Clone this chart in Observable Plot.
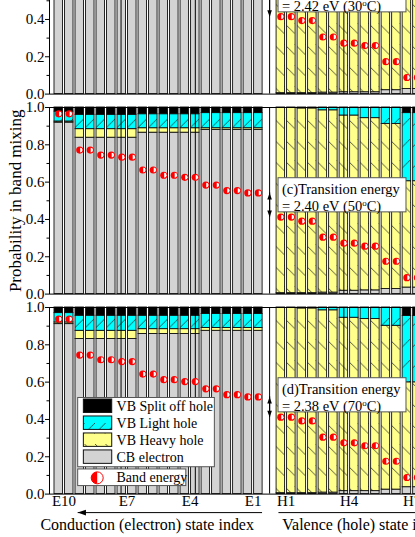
<!DOCTYPE html>
<html><head><meta charset="utf-8">
<script src="https://cdn.jsdelivr.net/npm/d3@7"></script>
<script src="https://cdn.jsdelivr.net/npm/@observablehq/plot@0.6"></script>
<style>
html,body{margin:0;padding:0;background:#fff;overflow:hidden}
#wrap{position:relative;width:415px;height:537px;overflow:hidden;background:#fff}
#wrap svg{position:absolute;left:0}
</style></head><body>
<svg width="0" height="0" style="position:absolute;left:0;top:0">
<defs>
<pattern id="hatchHeavy" patternUnits="userSpaceOnUse" x="53" y="0" width="10.506" height="21">
<rect width="10.506" height="21" fill="#FFFF8C"/>
<path d="M0,0L10.506,10.506" stroke="#222" stroke-width="0.75" fill="none"/>
</pattern>
<pattern id="hatchLight" patternUnits="userSpaceOnUse" x="53" y="0" width="10.506" height="21">
<rect width="10.506" height="21" fill="#00FFFF"/>
<path d="M0,10.506L10.506,0" stroke="#222" stroke-width="0.75" fill="none"/>
</pattern>
</defs></svg>
<div id="wrap"></div>
<script>
// ---------- data ----------
const conductionStates = ["E10","E9","E8","E7","E6","E5","E4","E3","E2","E1"];
const valenceStates = ["H1","H2","H3","H4","H5","H6","H7"];
const panelLetters = ["(b)","(c)","(d)"];
const transitionEnergies = ["2.42","2.40","2.38"];
const temperaturesC = ["30","50","70"];
const componentNames = ["VB Split off hole","VB Light hole","VB Heavy hole","CB electron"];
const xTickLabels = ["E10","E7","E4","E1","H1","H4","H7"];
const yTicks = [0,0.2,0.4,0.6,0.8,1.0];
const yMinorTicks = [0.1,0.3,0.5,0.7,0.9];
const bottomAxisTicks = [6.43,13.5,20.57,27.64,34.71];

// conduction (electron) states: fraction of each band, panels b, c, d
const cbE = [
  [0.919,0.838,0.838,0.838,0.865,0.865,0.865,0.880,0.880,0.880],
  [0.919,0.838,0.838,0.838,0.865,0.865,0.865,0.880,0.880,0.880],
  [0.911,0.831,0.831,0.831,0.858,0.858,0.858,0.875,0.875,0.875]];
const hhE = [
  [0.006,0.046,0.046,0.046,0.024,0.024,0.024,0.009,0.009,0.009],
  [0.006,0.046,0.046,0.046,0.024,0.024,0.024,0.009,0.009,0.009],
  [0.009,0.044,0.044,0.044,0.026,0.026,0.026,0.015,0.015,0.015]];
const lhE = [
  [0.053,0.077,0.077,0.077,0.075,0.075,0.075,0.081,0.081,0.081],
  [0.053,0.077,0.077,0.077,0.075,0.075,0.075,0.081,0.081,0.081],
  [0.050,0.081,0.081,0.081,0.072,0.072,0.072,0.075,0.075,0.075]];
const soE = [
  [0.022,0.039,0.039,0.039,0.036,0.036,0.036,0.030,0.030,0.030],
  [0.022,0.039,0.039,0.039,0.036,0.036,0.036,0.030,0.030,0.030],
  [0.030,0.044,0.044,0.044,0.044,0.044,0.044,0.035,0.035,0.035]];
const energyE = [
  [0.990,0.800,0.770,0.760,0.690,0.660,0.650,0.610,0.580,0.565],
  [0.966,0.772,0.745,0.734,0.665,0.637,0.626,0.584,0.555,0.542],
  [0.938,0.745,0.720,0.710,0.643,0.613,0.603,0.564,0.533,0.521]];

// valence (hole) states
const cbH = [
  [0.005,0.005,0.008,0.010,0.010,0.021,0.027],
  [0.005,0.005,0.008,0.018,0.020,0.027,0.035],
  [0.005,0.005,0.008,0.016,0.016,0.024,0.037]];
const hhH = [
  [0.995,0.990,0.977,0.950,0.940,0.900,0.600],
  [0.995,0.990,0.977,0.939,0.923,0.885,0.570],
  [0.995,0.990,0.977,0.929,0.922,0.878,0.562]];
const lhH = [
  [0,0.005,0.015,0.040,0.050,0.079,0.343],
  [0,0.005,0.015,0.043,0.057,0.088,0.365],
  [0,0.005,0.015,0.055,0.062,0.098,0.356]];
const soH = [
  [0,0,0,0,0,0,0.030],
  [0,0,0,0,0,0,0.030],
  [0,0,0,0,0,0,0.045]];
const energyH = [
  [0.415,0.394,0.306,0.273,0.260,0.174,0.089],
  [0.413,0.391,0.305,0.273,0.257,0.176,0.088],
  [0.412,0.392,0.305,0.275,0.259,0.176,0.089]];

// ---------- layout ----------
const LAYOUT = {
  panelTops: [-93.5, 107.3, 307.0], frameH: 186.6, width: 427, marginLeft: 49,
  gap: 1.14, xMin: -0.38, xMax: 35.6, font: "'Liberation Serif','Times New Roman',serif"
};
const RIGHT0 = 20 + LAYOUT.gap;
const GAPC = 20 + LAYOUT.gap / 2;
const fills = {cb: "#D3D3D3", hh: "url(#hatchHeavy)", lh: "url(#hatchLight)", so: "#000"};

const halfRight = {draw(ctx, size){const r=Math.sqrt(size/Math.PI);ctx.moveTo(0,-r);ctx.arc(0,0,r,-Math.PI/2,Math.PI/2);ctx.closePath();}};
const halfLeft = {draw(ctx, size){const r=Math.sqrt(size/Math.PI);ctx.moveTo(0,r);ctx.arc(0,0,r,Math.PI/2,3*Math.PI/2);ctx.closePath();}};
const arrowSym = (dir, len, wid) => ({draw(ctx, size){
  const k = Math.sqrt(size/Math.PI)/4, L = len*k, H = wid*k/2;
  ctx.moveTo(0,0);
  if (dir==="up"){ctx.lineTo(-H,L);ctx.lineTo(H,L);}
  else if (dir==="down"){ctx.lineTo(-H,-L);ctx.lineTo(H,-L);}
  else {ctx.lineTo(L,-H);ctx.lineTo(L,H);}
  ctx.closePath();
}});

function buildRows(pi){
  const rows = [], dots = [];
  const comps = [["cb",cbE,cbH],["hh",hhE,hhH],["lh",lhE,lhH],["so",soE,soH]];
  conductionStates.forEach((s,i)=>{
    for (let k=0;k<2;k++){
      const u = 2*i+k; let acc = 0;
      for (const [c,a] of comps){const v=a[pi][i]; rows.push({comp:c,x1:u,x2:u+1,y1:acc,y2:acc+v}); acc+=v;}
      dots.push({x:u+0.5, y:energyE[pi][i]});
    }
  });
  valenceStates.forEach((s,j)=>{
    for (let k=0;k<2;k++){
      const u = RIGHT0+2*j+k; let acc = 0;
      for (const [c,,a] of comps){const v=a[pi][j]; rows.push({comp:c,x1:u,x2:u+1,y1:acc,y2:acc+v}); acc+=v;}
      dots.push({x:u+0.5, y:energyH[pi][j]});
    }
  });
  return {rows: rows.filter(r=>r.y2-r.y1>1e-6), dots};
}

function tickPos(lbl){
  const i = conductionStates.indexOf(lbl);
  if (i>=0) return 2*i+1;
  return RIGHT0 + 2*valenceStates.indexOf(lbl) + 1;
}

function superscriptDegrees(svg){
  const w = document.createTreeWalker(svg, NodeFilter.SHOW_TEXT); const nodes=[];
  while (w.nextNode()) if (w.currentNode.nodeValue.includes("°")) nodes.push(w.currentNode);
  for (const n of nodes){
    const [a,b] = n.nodeValue.split("°");
    const sup = document.createElementNS("http://www.w3.org/2000/svg","tspan");
    sup.setAttribute("baseline-shift","super"); sup.setAttribute("font-size","0.62em"); sup.textContent="o";
    n.nodeValue = a; n.after(sup, document.createTextNode(b));
  }
}

function makePanel(pi){
  const last = pi===2;
  const {rows, dots} = buildRows(pi);
  const marks = [];
  for (const c of ["cb","hh","lh","so"]){
    marks.push(Plot.rect(rows.filter(r=>r.comp===c), {x1:"x1",x2:"x2",y1:"y1",y2:"y2",fill:fills[c],stroke:"#111",strokeWidth:0.9,insetLeft:1,insetRight:1}));
  }
  marks.push(Plot.tickX(bottomAxisTicks, {x:d=>d, y1:0, y2:0.022, stroke:"#000"}));
  marks.push(Plot.frame({stroke:"#000", strokeWidth:1}));
  marks.push(Plot.axisY(yTicks, {tickSize:4, tickPadding:1, tickFormat:d=>d.toFixed(1), fontSize:15, label:null}));
  marks.push(Plot.axisY(yMinorTicks, {tickSize:2.5, tickFormat:()=>"", label:null}));
  // annotation box
  marks.push(Plot.rect([0], {x1:RIGHT0+0.28, x2:RIGHT0+12.46, y1:0.438, y2:0.621, fill:"white", stroke:"#555", strokeWidth:1}));
  marks.push(Plot.text([`${panelLetters[pi]}Transition energy\n= ${transitionEnergies[pi]} eV (${temperaturesC[pi]}°C)`],
    {x:RIGHT0+0.6, y:0.5225, textAnchor:"start", lineAnchor:"middle", lineHeight:1.19, fontSize:14.5, fill:"#000"}));
  // transition arrow (E1 -> H1)
  const tr = [{x:GAPC, top:energyE[pi][9], bot:energyH[pi][0]}];
  marks.push(Plot.ruleX(tr, {x:"x", y1:"top", y2:"bot", stroke:"#000", strokeWidth:1.2}));
  marks.push(Plot.dot(tr, {x:"x", y:"top", symbol:arrowSym("up",6.5,4.6), r:4, fill:"#000", stroke:"none"}));
  marks.push(Plot.dot(tr, {x:"x", y:"bot", symbol:arrowSym("down",6.5,4.6), r:4, fill:"#000", stroke:"none"}));
  // band energy dots
  marks.push(Plot.dot(dots, {x:"x", y:"y", r:3.6, fill:"#FF0000", stroke:"none"}));
  marks.push(Plot.dot(dots, {x:"x", y:"y", r:2.4, dx:0.4, symbol:halfRight, fill:"#fff", stroke:"none"}));

  if (pi===1){
    marks.push(Plot.text(["Probability in band mixing"], {x:LAYOUT.xMin, y:0.5, rotate:-90, dx:-34, fontSize:17, fill:"#000"}));
  }
  if (last){
    // legend
    marks.push(Plot.rect([0], {x1:2.35, x2:15.36, y1:0.144, y2:0.515, fill:"white", stroke:"#555"}));
    const leg = componentNames.map((name,k)=>({name, comp:["so","lh","hh","cb"][k], yc:0.471-k*0.091}));
    for (const e of leg){
      marks.push(Plot.rect([e], {x1:2.89, x2:5.59, y1:e.yc-0.036, y2:e.yc+0.036, fill:fills[e.comp], stroke:"#111", strokeWidth:1}));
    }
    marks.push(Plot.text(leg, {x:6.0, y:"yc", text:"name", textAnchor:"start", fontSize:14, fill:"#000"}));
    marks.push(Plot.rect([0], {x1:2.35, x2:12.64, y1:0.043, y2:0.132, fill:"white", stroke:"#555"}));
    marks.push(Plot.dot([0], {x:4.16, y:0.087, r:6, fill:"white", stroke:"#FF0000", strokeWidth:1}));
    marks.push(Plot.dot([0], {x:4.16, y:0.087, r:6, symbol:halfLeft, fill:"#FF0000", stroke:"none"}));
    marks.push(Plot.text(["Band energy"], {x:6.0, y:0.087, textAnchor:"start", fontSize:14, fill:"#000"}));
    // x axis labels
    const tv = xTickLabels.map(tickPos);
    const lab = new Map(tv.map((v,i)=>[v, xTickLabels[i]]));
    marks.push(Plot.axisX(tv, {tickSize:0, tickPadding:1, tickFormat:d=>lab.get(d), fontSize:15, label:null}));
    // direction arrows below the axis
    marks.push(Plot.ruleY([0], {x1:2.35, x2:19.9, dy:18.5, stroke:"#000", strokeWidth:1}));
    marks.push(Plot.dot([0], {x:2.3, y:0, dy:18.5, symbol:arrowSym("left",8.3,5.7), r:4, fill:"#000", stroke:"none"}));
    marks.push(Plot.ruleY([0], {x1:RIGHT0+0.32, x2:LAYOUT.xMax, dy:18.5, stroke:"#000", strokeWidth:1}));
    marks.push(Plot.text(["Conduction (electron) state index"], {x:8.92, y:0, dy:30.5, fontSize:16, fill:"#000"}));
    marks.push(Plot.text(["Valence (hole) state index"], {x:RIGHT0+0.64, y:0, dy:30.5, textAnchor:"start", fontSize:16, fill:"#000"}));
  }
  const mt = 10, mb = last ? 45 : 10;
  const svg = Plot.plot({
    width: LAYOUT.width, height: mt + LAYOUT.frameH + mb,
    marginLeft: LAYOUT.marginLeft, marginRight: 0, marginTop: mt, marginBottom: mb,
    x: {domain: [LAYOUT.xMin, LAYOUT.xMax], axis: null, label: null},
    y: {domain: [0, 1], axis: null, label: null},
    style: `background:transparent;overflow:visible;max-width:none;font-family:${LAYOUT.font};font-size:15px;color:#000`,
    marks
  });
  superscriptDegrees(svg);
  svg.style.top = (LAYOUT.panelTops[pi] - mt) + "px";
  return svg;
}

const wrap = document.getElementById("wrap");
[0,1,2].forEach(pi => wrap.appendChild(makePanel(pi)));
</script>
</body></html>
